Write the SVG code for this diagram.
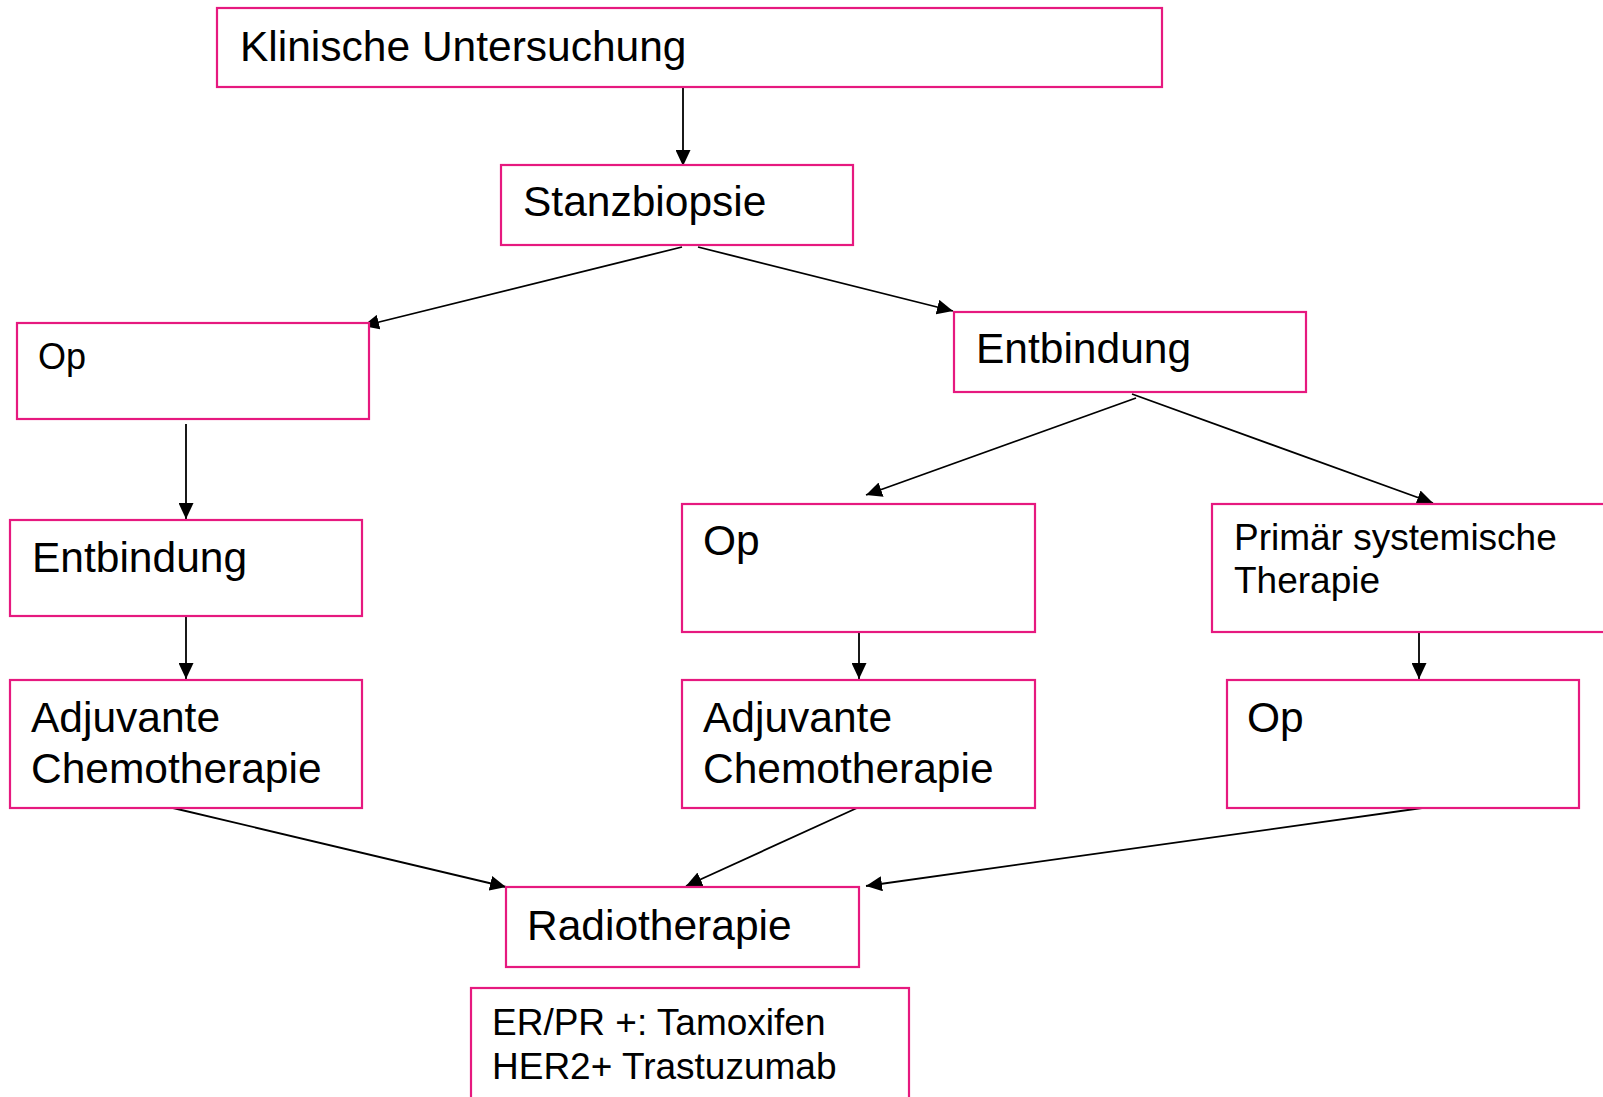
<svg xmlns="http://www.w3.org/2000/svg" width="1603" height="1097" viewBox="0 0 1603 1097">
<style>
.box{fill:#ffffff;stroke:#E6197F;stroke-width:2.2}
.t{font-family:"Liberation Sans",Arial,sans-serif;fill:#000000}
.edge{stroke:#000000;stroke-width:1.8;fill:none;marker-end:url(#ah)}
</style>
<defs>
<marker id="ah" markerUnits="userSpaceOnUse" markerWidth="17" markerHeight="15" refX="16" refY="7.5" orient="auto">
<path d="M0,0 L16,7.5 L0,15 Z" fill="#000000"/>
</marker>
</defs>
<rect width="1603" height="1097" fill="#ffffff"/>
<g id="connectors">
<line class="edge" x1="683" y1="87" x2="683" y2="166"/>
<line class="edge" x1="682" y1="247" x2="363" y2="326"/>
<line class="edge" x1="698" y1="247" x2="953" y2="311"/>
<line class="edge" x1="186" y1="424" x2="186" y2="519"/>
<line class="edge" x1="186" y1="616" x2="186" y2="679"/>
<line class="edge" x1="1136" y1="398" x2="866" y2="495"/>
<line class="edge" x1="1132" y1="394" x2="1433" y2="503"/>
<line class="edge" x1="859" y1="632" x2="859" y2="679"/>
<line class="edge" x1="1419" y1="632" x2="1419" y2="679"/>
<line class="edge" x1="173" y1="808" x2="506" y2="887"/>
<line class="edge" x1="857" y1="808" x2="686" y2="886"/>
<line class="edge" x1="1422" y1="808" x2="866" y2="886"/>
</g>
<g id="n1"><rect class="box" x="217" y="8" width="945" height="79"/><text class="t" x="240" y="61" font-size="42.5">Klinische Untersuchung</text></g>
<g id="n2"><rect class="box" x="501" y="165" width="352" height="80"/><text class="t" x="523" y="216" font-size="42.5">Stanzbiopsie</text></g>
<g id="n3"><rect class="box" x="17" y="323" width="352" height="96"/><text class="t" x="38" y="369" font-size="36">Op</text></g>
<g id="n4"><rect class="box" x="954" y="312" width="352" height="80"/><text class="t" x="976" y="363" font-size="42.5">Entbindung</text></g>
<g id="n5"><rect class="box" x="10" y="520" width="352" height="96"/><text class="t" x="32" y="572" font-size="42.5">Entbindung</text></g>
<g id="n6"><rect class="box" x="682" y="504" width="353" height="128"/><text class="t" x="703" y="555" font-size="42.5">Op</text></g>
<g id="n7"><rect class="box" x="1212" y="504" width="400" height="128"/><text class="t" x="1234" y="550" font-size="37">Primär systemische</text><text class="t" x="1234" y="593" font-size="37">Therapie</text></g>
<g id="n8"><rect class="box" x="10" y="680" width="352" height="128"/><text class="t" x="31" y="732" font-size="42.5">Adjuvante</text><text class="t" x="31" y="783" font-size="42.5">Chemotherapie</text></g>
<g id="n9"><rect class="box" x="682" y="680" width="353" height="128"/><text class="t" x="703" y="732" font-size="42.5">Adjuvante</text><text class="t" x="703" y="783" font-size="42.5">Chemotherapie</text></g>
<g id="n10"><rect class="box" x="1227" y="680" width="352" height="128"/><text class="t" x="1247" y="732" font-size="42.5">Op</text></g>
<g id="n11"><rect class="box" x="506" y="887" width="353" height="80"/><text class="t" x="527" y="940" font-size="42.5">Radiotherapie</text></g>
<g id="n12"><rect class="box" x="471" y="988" width="438" height="140"/><text class="t" x="492" y="1035" font-size="37">ER/PR +: Tamoxifen</text><text class="t" x="492" y="1079" font-size="37">HER2+ Trastuzumab</text></g>
</svg>
